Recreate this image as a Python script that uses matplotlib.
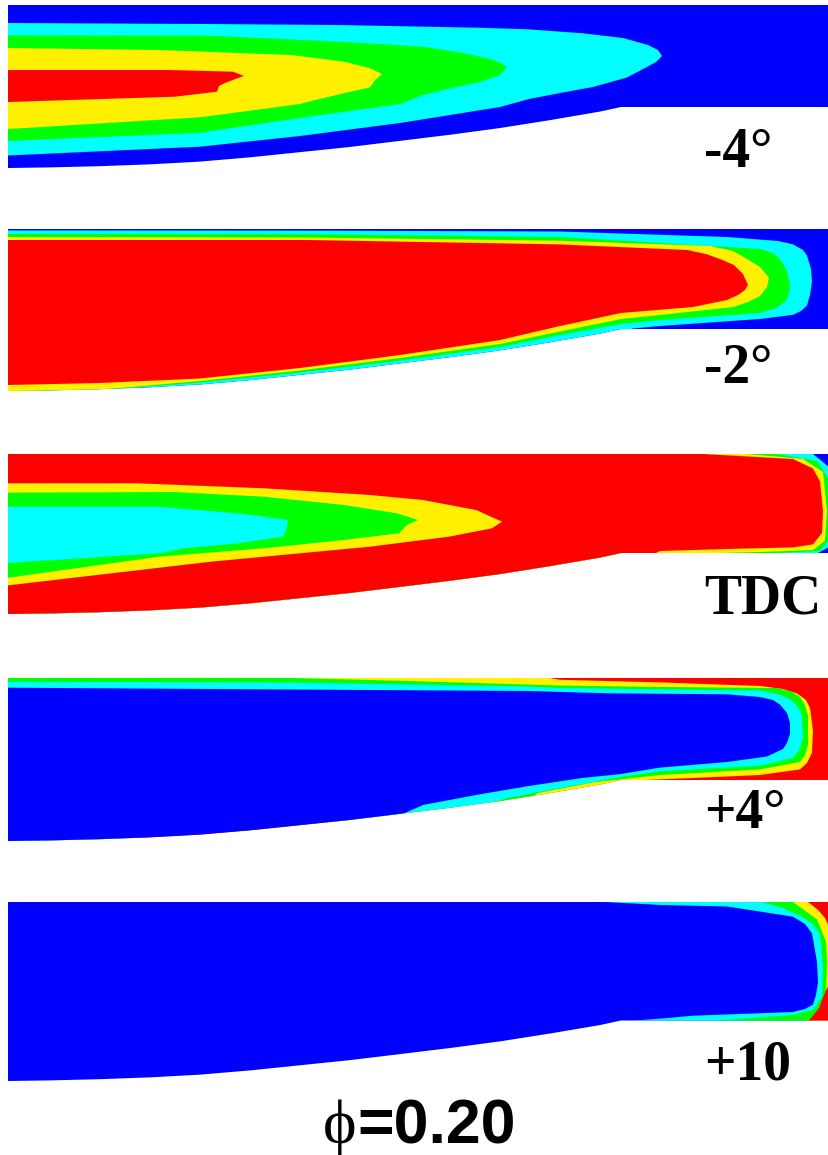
import numpy as np
import matplotlib
matplotlib.use("Agg")
import matplotlib.pyplot as plt
from matplotlib.patches import Polygon

BLUE, CYAN, GREEN, YELLOW, RED = '#0000ff', '#00ffff', '#00ff00', '#fff000', '#ff0000'

# crevice geometry (grid units, depth measured down from the head)
crank_labels = ['-4°', '-2°', 'TDC', '+4°', '+10']
gap_left = [163, 162, 160, 163, 179]
gap_flat = [102, 100, 99, 102, 118.5]
length = 821
wall_x = [0, 42, 92, 142, 192, 242, 292, 342, 392, 442, 492, 542, 592, 613]
wall_rise = [0, 0.01, 0.03, 0.06, 0.105, 0.175, 0.26, 0.345, 0.445, 0.545, 0.655, 0.785, 0.925, 1.0]

# -4 deg : contour band outlines (x, depth)
m4_cyan = [(0, 18), (200, 19), (330, 20), (470, 22.7), (520, 24.3), (575, 28.3), (615, 33), (640, 40),
           (650, 45), (654, 51), (648, 57), (637, 63), (619, 72.5), (585, 82), (552, 88), (521, 94),
           (492, 102), (392, 118), (292, 131), (192, 141.7), (0, 150.5)]
m4_green = [(0, 30.5), (203, 30.7), (330, 36.7), (415, 41.7), (457, 48.3), (486, 55), (499, 61.7),
            (492, 70), (473, 76.7), (442, 83.3), (415, 90), (392, 99), (292, 113), (192, 127.7), (0, 136)]
m4_yellow = [(0, 43), (151, 45), (283, 50), (336, 56.7), (362, 63.3), (374, 69), (367, 75), (362, 82.3),
             (337, 88), (307, 95), (292, 99), (192, 112.3), (0, 124)]
m4_red = [(0, 65), (161, 65), (225, 66.7), (236, 71), (230, 73), (217, 78), (211, 81), (209, 86.7),
          (167, 91.7), (0, 97)]

# -2 deg
m2_cyan = [(0, 1.4), (300, 1.6), (552, 2.5), (719, 8), (770, 12), (785, 15.4), (795, 21), (799, 26.6),
           (803, 40), (804, 52.5), (802, 66), (799, 76.6), (793, 82), (785, 85.8), (752, 90), (652, 97),
           (625, 99.5), (600, 108), (500, 128), (300, 155), (0, 172)]
m2_green = [(0, 5), (300, 5.3), (552, 8), (752, 20), (765, 24), (772, 30), (779, 42), (782, 56), (781, 64),
            (779, 71), (768, 79), (752, 84), (652, 91), (613, 95), (552, 106), (492, 118), (392, 131.5),
            (292, 143.5), (192, 153.5), (92, 161), (0, 166)]
m2_yellow = [(0, 8), (300, 8.5), (552, 11.7), (702, 17), (725, 22), (739, 30), (752, 38), (761, 48.8),
             (759, 58), (752, 67), (740, 73), (725, 78), (652, 86), (613, 90), (552, 102.5), (492, 115),
             (392, 129), (292, 141.5), (192, 152), (100, 160), (0, 170)]
m2_red = [(0, 11), (300, 11), (552, 15.4), (679, 21), (698, 25), (712, 30), (726, 36), (735, 45), (740, 56),
          (737, 61), (730, 66), (719, 71), (685, 78), (613, 84), (552, 97), (492, 111), (392, 126),
          (292, 139), (192, 149.5), (92, 154), (0, 156)]

# TDC
tdc_cyan_wall = [(0, 0), (805, 0), (821, 13), (821, 93), (810, 99), (810, 170), (0, 170)]
tdc_green_wall = [(0, 0), (769, 0), (809, 7), (820, 24), (820, 86.7), (812, 97), (770, 99), (770, 170),
                  (0, 170)]
tdc_yellow_wall = [(0, 0), (739, 0), (795, 5), (815, 18), (819, 57), (817, 86.7), (805, 96), (752, 98),
                   (712, 99), (712, 170), (0, 170)]
tdc_red_wall = [(0, 0), (695, 0), (785, 5), (805, 14.5), (812, 27.5), (815, 57), (814, 79), (805, 90.4),
                (785, 93.4), (719, 95), (652, 97), (648, 99), (648, 170), (0, 170)]
tdc_yellow_core = [(0, 29.3), (129, 29.3), (256, 34.3), (362, 41), (415, 46), (468, 56), (494, 67.7),
                   (484, 74.3), (441, 82.7), (362, 92.7), (203, 107.7), (0, 131.4)]
tdc_green_core = [(0, 38.6), (166, 38), (256, 42.7), (336, 51), (389, 59.3), (410, 66), (399, 71),
                  (391, 79.3), (336, 86), (256, 94.3), (151, 102.7), (0, 123.8)]
tdc_cyan_core = [(0, 52.7), (151, 52.7), (230, 59.3), (280, 66), (278, 76), (275, 82.7), (230, 89.3),
                 (177, 94.3), (151, 99.3), (0, 109)]

# +4 deg
p4_yellow = [(0, 0), (542, 0), (552, 1.8), (652, 4.4), (752, 8), (775, 11), (789, 15.5), (798, 22),
             (802, 30), (805, 52.6), (804, 74.8), (799, 85), (792, 91.4), (752, 97), (685, 100), (613, 103),
             (520, 125), (0, 170)]
p4_green = [(0, 0), (283, 0), (400, 3), (552, 7.5), (652, 9), (769, 10), (784, 14), (792, 19), (797, 27),
            (800, 37.7), (800, 67), (797, 77), (792, 84), (752, 91.4), (652, 97), (585, 104.4), (530, 115),
            (515, 125), (0, 170)]
p4_cyan = [(0, 3.7), (283, 4.5), (521, 8.5), (552, 10), (752, 12.6), (770, 16), (782, 21), (790, 29),
           (794, 37.7), (795, 60), (791, 72), (785, 80), (752, 87.7), (652, 93.3), (613, 99), (552, 110),
           (500, 120), (484, 124.5), (470, 132), (0, 170)]
p4_blue = [(0, 9.7), (521, 13), (600, 15.3), (719, 16.3), (752, 19), (765, 22), (772, 26.6), (779, 35),
           (782, 45), (782, 56), (779, 65), (775, 71), (759, 78.5), (719, 84), (652, 89.6), (613, 96),
           (574, 100), (521, 108), (468, 117), (415, 127), (389, 138.5), (370, 150), (0, 170)]

# +10 deg
p10_cyan = [(597, 0), (653, 3), (719, 4.5), (753, 9.7), (785, 14.7), (797, 22), (804, 31.3), (809, 60),
            (810, 80.4), (808, 93), (805, 102.6), (797, 107), (785, 110), (685, 113.7), (652, 116.7),
            (627, 118.5), (627, 125), (821, 125), (821, 0)]
p10_green = [(755, 0), (775, 6), (792, 13.7), (805, 22), (812, 32), (815, 65.6), (814, 95), (805, 108),
             (785, 113), (752, 115.6), (709, 118.5), (709, 125), (821, 125), (821, 0)]
p10_yellow = [(785, 0), (809, 17.4), (818, 39.7), (819, 60), (818, 91.5), (812, 110), (799, 118.5),
              (799, 125), (821, 125), (821, 0)]
p10_red_top = [(800, 0), (810, 8), (817, 16), (821, 25), (821, 0)]
p10_red_bot = [(821, 82), (816, 93), (811, 106), (804, 115), (800, 118.5), (800, 125), (821, 125)]

panels = [
    (BLUE, [(CYAN, m4_cyan), (GREEN, m4_green), (YELLOW, m4_yellow), (RED, m4_red)]),
    (BLUE, [(CYAN, m2_cyan), (GREEN, m2_green), (YELLOW, m2_yellow), (RED, m2_red)]),
    (BLUE, [(CYAN, tdc_cyan_wall), (GREEN, tdc_green_wall), (YELLOW, tdc_yellow_wall), (RED, tdc_red_wall),
            (YELLOW, tdc_yellow_core), (GREEN, tdc_green_core), (CYAN, tdc_cyan_core)]),
    (RED, [(YELLOW, p4_yellow), (GREEN, p4_green), (CYAN, p4_cyan), (BLUE, p4_blue)]),
    (BLUE, [(CYAN, p10_cyan), (GREEN, p10_green), (YELLOW, p10_yellow), (RED, p10_red_top),
            (RED, p10_red_bot)]),
]

W, H = 829, 1155
fig = plt.figure(figsize=(W / 100, H / 100), dpi=100)
panel_top = [5, 229, 454, 678, 902]
label_base = [167, 383, 613, 828, 1080]

for i, (bg, bands) in enumerate(panels):
    h, flat = gap_left[i], gap_flat[i]
    ax = fig.add_axes([8 / W, 1 - (panel_top[i] + h) / H, length / W, h / H])
    ax.set_xlim(0, length)
    ax.set_ylim(h, 0)
    ax.axis('off')

    wall_depth = h - (h - flat) * np.array(wall_rise)
    outline = [(0, 0), (length, 0), (length, flat)] + list(zip(wall_x[::-1], wall_depth[::-1]))
    domain = Polygon(outline, closed=True, facecolor=bg, edgecolor='none')
    ax.add_patch(domain)
    for color, pts in bands:
        p = Polygon(pts, closed=True, facecolor=color, edgecolor='none')
        ax.add_patch(p)
        p.set_clip_path(domain)

    fig.text(704 / W, 1 - label_base[i] / H, crank_labels[i], ha='left', va='baseline',
             fontsize=40, fontweight='bold', family=['Liberation Serif', 'DejaVu Serif'])

fig.text(323 / W, 1 - 1143 / H, 'ϕ', ha='left', va='baseline', fontsize=46,
         family=['Liberation Serif', 'DejaVu Serif'])
fig.text(357 / W, 1 - 1143 / H, '=0.20', ha='left', va='baseline', fontsize=45,
         fontweight='bold', family=['Liberation Sans Narrow', 'Liberation Sans', 'DejaVu Sans'])

fig.savefig('out.png', dpi=100)
